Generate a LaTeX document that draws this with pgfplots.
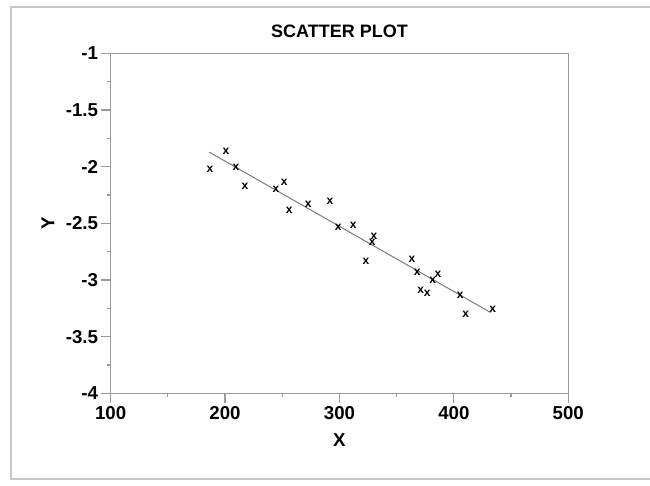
\documentclass[border=0pt]{standalone}
\usepackage{pgfplots}
\pgfplotsset{compat=1.18}
\usepackage{fontspec}
\setmainfont{Liberation Sans}
\definecolor{axisCol}{HTML}{9A9A9A}
\definecolor{frameCol}{HTML}{C8C8C8}
\definecolor{markCol}{HTML}{333333}
\definecolor{lineCol}{HTML}{808080}

\begin{document}
\begin{tikzpicture}[x=1pt,y=1pt]
  % page bounds and light frame (1px = 0.75pt, origin at lower left of axis box)
  \path[use as bounding box] (-83,-68.8) rectangle (404.5,295);
  \draw[frameCol, line width=1.1pt] (410,289.9) -- (-74.8,289.9) -- (-74.8,-64.3) -- (410,-64.3);
  \begin{axis}[
      at={(0,0)}, anchor=south west, scale only axis,
      width=343.2pt, height=255pt,
      xmin=100, xmax=500, ymin=-4, ymax=-1,
      xtick={100,200,300,400,500}, xticklabels={100,200,300,400,500},
      ytick={-4,-3.5,-3,-2.5,-2,-1.5,-1},
      yticklabels={-4,-3.5,-3,-2.5,-2,-1.5,-1},
      minor x tick num=1, minor y tick num=1,
      tick align=outside, xtick pos=left, ytick pos=left,
      major tick length=7pt, minor tick length=2.5pt,
      axis line style={axisCol, line width=0.9pt},
      every tick/.style={axisCol, line width=0.9pt},
      tick label style={font=\fontsize{14}{16}\selectfont\bfseries},
      xticklabel style={yshift=1pt},
      yticklabel style={xshift=1pt},
      xlabel={X}, ylabel={Y},
      label style={font=\fontsize{14}{16}\selectfont\bfseries},
      xlabel style={at={(0.5,0)}, anchor=center, yshift=-35pt},
      ylabel style={at={(0,0.5)}, anchor=center, yshift=47pt},
      title={SCATTER PLOT},
      title style={font=\fontsize{13.5}{15}\selectfont\bfseries, at={(0.5,1)}, anchor=base, yshift=6pt},
      clip=false,
    ]
    \addplot[only marks, mark=text, color=markCol,
      text mark={\fontsize{9}{9}\selectfont\bfseries x}]
      coordinates {
        (186.8,-2.022) (200.8,-1.869) (209.5,-2.004) (217.4,-2.175)
        (244.5,-2.204) (251.7,-2.140) (256.1,-2.387) (272.7,-2.328)
        (291.7,-2.310) (298.9,-2.537) (312.1,-2.522) (323.2,-2.831)
        (328.7,-2.666) (330.2,-2.617) (363.4,-2.816) (368.0,-2.934)
        (371.0,-3.087) (376.7,-3.122) (381.5,-2.999) (386.1,-2.952)
        (405.6,-3.137) (410.3,-3.301) (433.9,-3.255)
      };
    \addplot[lineCol, line width=0.8pt] coordinates {(186.2,-1.872) (432.2,-3.287)};
  \end{axis}
\end{tikzpicture}
\end{document}
